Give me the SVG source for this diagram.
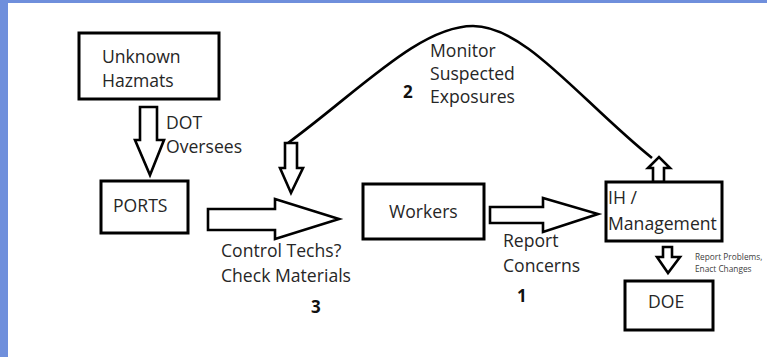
<svg xmlns="http://www.w3.org/2000/svg" width="767" height="357" viewBox="0 0 767 357">
<style>
.box{fill:#fff;stroke:#000;stroke-width:3}
.arr{fill:#fff;stroke:#000;stroke-width:2.6;stroke-linejoin:miter}
.t{font-family:"Open Sans","Noto Sans",sans-serif;font-size:17.6px;fill:#262626}
.s{font-family:"Open Sans","Noto Sans",sans-serif;font-size:8.3px;fill:#404040}
.n{font-family:"Open Sans","Noto Sans",sans-serif;font-size:17px;font-weight:bold;fill:#111}
</style>
<rect x="0" y="0" width="767" height="357" fill="#fff"/>
<rect x="0" y="0" width="767" height="3" fill="#6f8fdc"/>
<rect x="0" y="0" width="8" height="357" fill="#6f8fdc"/>
<g id="connectors">
<path d="M288,143 C360,90 420,26 473,26 C525,26 580,100 652,158" fill="none" stroke="#000" stroke-width="2.6"/>
<polygon class="arr" points="140,107 157,107 157,140 164,140 150,175 135,140 140,140"/>
<polygon class="arr" points="208,209 275,209 275,199 339,219 275,239 275,230 208,230"/>
<polygon class="arr" points="490,207 543,207 543,198 598,214 543,232 543,223 490,223"/>
<polygon class="arr" points="285,143 297,143 297,168 303,168 291,193 280,168 285,168"/>
<polygon class="arr" points="653,182 653,168 648,168 659,157 670,168 664,168 664,182"/>
<polygon class="arr" points="663,247 672,247 672,257 680,257 668,273 657,257 663,257"/>
<text class="t" x="166" y="129">DOT</text>
<text class="t" x="166" y="153">Oversees</text>
<text class="t" x="430" y="57">Monitor</text>
<text class="t" x="430" y="80">Suspected</text>
<text class="t" x="430" y="103">Exposures</text>
<text class="n" x="403" y="98">2</text>
<text class="t" x="221" y="257">Control Techs?</text>
<text class="t" x="221" y="282">Check Materials</text>
<text class="n" x="311" y="313">3</text>
<text class="t" x="503" y="247">Report</text>
<text class="t" x="503" y="272">Concerns</text>
<text class="n" x="517" y="302">1</text>
<text class="s" x="695" y="260">Report Problems,</text>
<text class="s" x="695" y="272">Enact Changes</text>
</g>
<g id="unknown-hazmats">
<rect class="box" x="79" y="33" width="140" height="66"/>
<text class="t" x="102" y="63">Unknown</text>
<text class="t" x="102" y="87">Hazmats</text>
</g>
<g id="ports">
<rect class="box" x="101" y="181" width="87" height="52"/>
<text class="t" x="113" y="212">PORTS</text>
</g>
<g id="workers">
<rect class="box" x="363" y="184" width="121" height="55"/>
<text class="t" x="389" y="218">Workers</text>
</g>
<g id="ih-management">
<rect class="box" x="606" y="182" width="116" height="59"/>
<text class="t" x="608" y="204">IH /</text>
<text class="t" x="608" y="230">Management</text>
</g>
<g id="doe">
<rect class="box" x="625" y="281" width="88" height="49"/>
<text class="t" x="648" y="308">DOE</text>
</g>
</svg>
